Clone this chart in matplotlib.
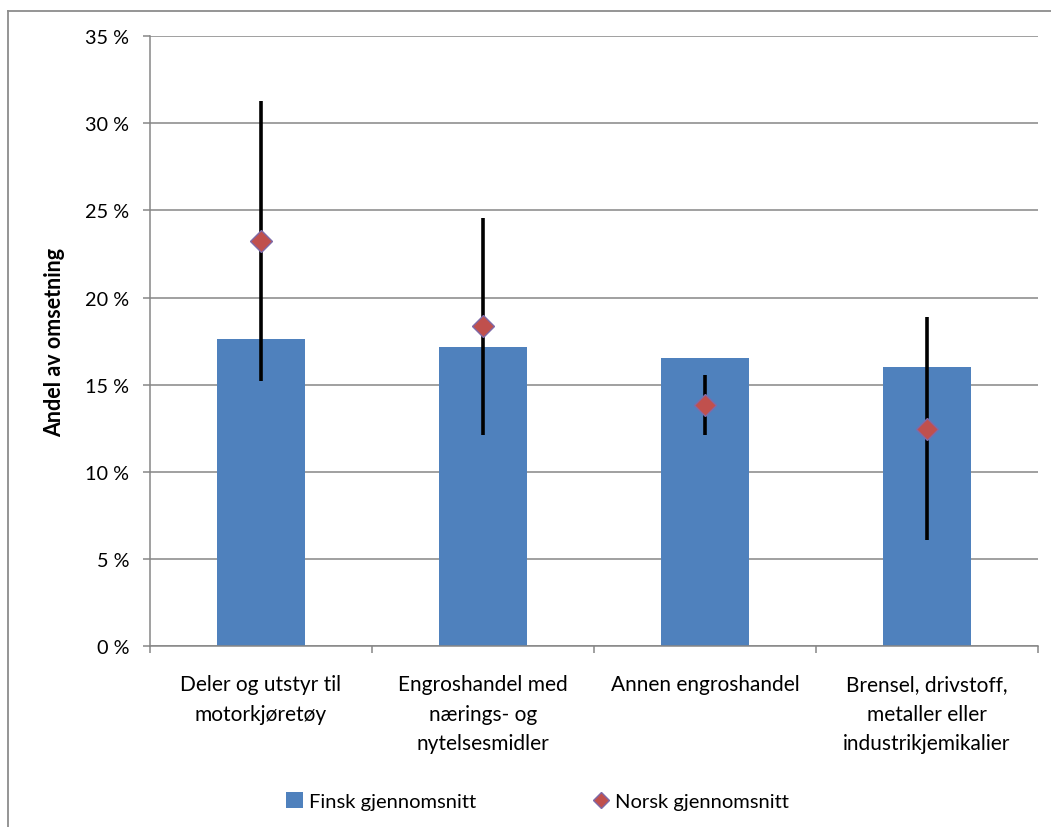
import matplotlib
matplotlib.use("Agg")
import matplotlib.pyplot as plt
from matplotlib.lines import Line2D
from matplotlib.patches import Patch
from matplotlib.ticker import FuncFormatter, MultipleLocator, FixedLocator

# Data (percent of turnover)
categories = [
    "Deler og utstyr til\nmotorkjøretøy",
    "Engroshandel med\nnærings- og\nnytelsesmidler",
    "Annen engroshandel",
    "Brensel, drivstoff,\nmetaller eller\nindustrikjemikalier",
]
finsk_snitt = [17.64, 17.15, 16.55, 16.04]
norsk_snitt = [23.23, 18.37, 13.86, 12.48]
norsk_lav = [15.23, 12.14, 12.14, 6.10]
norsk_hoy = [31.25, 24.56, 15.56, 18.88]
series_names = ["Finsk gjennomsnitt", "Norsk gjennomsnitt"]

BAR_COLOR = "#4F81BD"
MARK_COLOR = "#C0504D"
MARK_EDGE = "#7F6AA8"
GRID_COLOR = "#868686"

plt.rcParams["font.family"] = ["Lato", "DejaVu Sans"]
FS_CAT = 15
FS_TICK = 14.3
FS_LEG = 14.5
FS_YLAB = 15.5

W, H = 1051, 828
fig = plt.figure(figsize=(W / 100, H / 100), dpi=100)
ax = fig.add_axes([150 / W, 1 - 647.3 / H, (1038 - 150) / W, (647.3 - 37) / H])

x = list(range(len(categories)))
ax.bar(x, finsk_snitt, width=0.4, color=BAR_COLOR, zorder=2)
ax.vlines(x, norsk_lav, norsk_hoy, colors="black", linewidth=2.6, zorder=3)
ax.plot(x, norsk_snitt, linestyle="none", marker="D", markersize=11.5,
        markerfacecolor=MARK_COLOR, markeredgecolor=MARK_EDGE,
        markeredgewidth=1.0, zorder=4)

ax.set_xlim(-0.5, len(categories) - 0.5)
ax.set_ylim(0, 35)
ax.yaxis.set_major_locator(MultipleLocator(5))
ax.yaxis.set_major_formatter(FuncFormatter(lambda v, p: f"{v:.0f} %"))
ax.grid(axis="y", color=GRID_COLOR, linewidth=1.1, zorder=0)
ax.set_axisbelow(True)

ax.set_xticks(x)
ax.set_xticklabels(categories, fontsize=FS_CAT, linespacing=1.6, va="top")
ax.xaxis.set_minor_locator(FixedLocator([i - 0.5 for i in range(len(categories) + 1)]))
ax.tick_params(axis="x", which="major", length=0, pad=20)
ax.tick_params(axis="x", which="minor", length=5, width=1.1, color=GRID_COLOR, direction="out")
ax.tick_params(axis="y", length=5, width=1.1, color=GRID_COLOR, direction="out",
               labelsize=FS_TICK, pad=10)

for side in ("top", "right"):
    ax.spines[side].set_visible(False)
for side in ("left", "bottom"):
    ax.spines[side].set_color(GRID_COLOR)
    ax.spines[side].set_linewidth(1.1)

ax.set_ylabel("Andel av omsetning", fontsize=FS_YLAB, fontweight="bold", labelpad=14)

handles = [
    Patch(facecolor=BAR_COLOR, edgecolor="none"),
    Line2D([], [], linestyle="none", marker="D", markersize=8.5,
           markerfacecolor=MARK_COLOR, markeredgecolor=MARK_EDGE, markeredgewidth=1.0),
]
fig.legend(handles, series_names, loc="center", bbox_to_anchor=(537.5 / W, 1 - 802 / H),
           ncol=2, frameon=False, fontsize=FS_LEG, handlelength=0.8, handleheight=0.8,
           handletextpad=0.3, columnspacing=5.8)

# Outer chart frame (top and left edges)
fx, fy = 8.3 / W, 1 - 12.3 / H
fig.add_artist(Line2D([fx, fx], [0, fy], transform=fig.transFigure, color="#8C8C8C", linewidth=1.3))
fig.add_artist(Line2D([fx, 1], [fy, fy], transform=fig.transFigure, color="#8C8C8C", linewidth=1.3))

fig.savefig("out.png", dpi=100, facecolor="white")
